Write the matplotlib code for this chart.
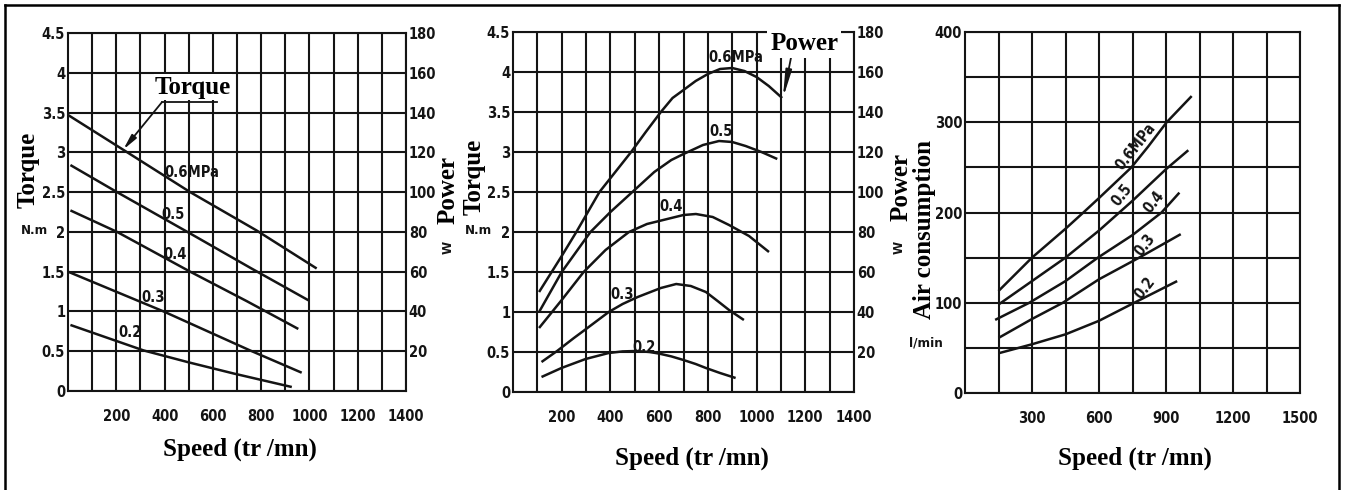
import matplotlib
matplotlib.use('Agg')
import matplotlib.pyplot as plt
from matplotlib import font_manager as fm
from matplotlib.lines import Line2D

# ---------------- data ----------------
pressures = ['0.6MPa', '0.5', '0.4', '0.3', '0.2']

# Panel 1: torque (N.m) vs speed (tr/mn)
torque_speed = {
    '0.6MPa': [0, 230, 506, 780, 1030],
    '0.5': [10, 203, 506, 760, 996],
    '0.4': [10, 203, 506, 740, 954],
    '0.3': [0, 396, 754, 968],
    '0.2': [10, 313, 500, 686, 927],
}
torque_vals = {
    '0.6MPa': [3.47, 3.03, 2.50, 2.02, 1.54],
    '0.5': [2.84, 2.50, 1.98, 1.54, 1.14],
    '0.4': [2.27, 2.00, 1.50, 1.13, 0.78],
    '0.3': [1.50, 1.00, 0.51, 0.23],
    '0.2': [0.83, 0.51, 0.36, 0.22, 0.05],
}

# Panel 2: power (W) vs speed
power_speed = {
    '0.6MPa': [107, 200, 260, 355, 420, 485, 545, 607, 655, 700, 750, 800, 850, 900, 950, 1000, 1050, 1105],
    '0.5': [107, 200, 318, 400, 490, 580, 650, 700, 780, 846, 900, 955, 1020, 1085],
    '0.4': [107, 200, 290, 380, 476, 550, 600, 700, 751, 820, 887, 969, 1051],
    '0.3': [117, 181, 250, 300, 393, 450, 512, 607, 670, 730, 792, 840, 887, 948],
    '0.2': [117, 199, 298, 393, 450, 505, 560, 600, 650, 700, 750, 792, 850, 914],
}
power_vals = {
    '0.6MPa': [50, 68, 80, 100, 110, 120, 130, 140, 147, 151, 155.5, 159, 161.5, 162, 160.5, 157.5, 153, 147],
    '0.5': [40, 60, 80, 90, 100, 110, 116, 119, 123.5, 125.5, 125, 123, 120, 116.5],
    '0.4': [32, 46, 60, 71, 80, 84, 85.5, 88.5, 89, 87.5, 83.5, 78, 70],
    '0.3': [15, 20.5, 27, 31.5, 40, 44, 47.5, 52, 54, 53, 50, 45.5, 41, 36],
    '0.2': [7.5, 12, 16.5, 19.5, 20.3, 20.5, 20, 19.2, 17.8, 16, 14, 12, 9.5, 7],
}

# Panel 3: air consumption (l/min) vs speed
air_speed = {
    '0.6MPa': [150, 300, 450, 530, 600, 745, 820, 903, 1015],
    '0.5': [150, 300, 450, 600, 750, 900, 1000],
    '0.4': [135, 288, 450, 595, 750, 880, 960],
    '0.3': [150, 300, 438, 600, 780, 966],
    '0.2': [150, 300, 450, 600, 750, 950],
}
air_vals = {
    '0.6MPa': [113, 150, 182, 200, 216, 250, 273, 300, 329],
    '0.5': [98, 124, 150, 180, 213, 248, 269],
    '0.4': [81, 100, 124, 150, 175, 200, 222],
    '0.3': [61, 82, 100, 126, 150, 176],
    '0.2': [44, 54, 65, 80, 99, 124],
}

# curve label anchor positions (speed, value)
torque_lbl = {'0.6MPa': (513, 2.75), '0.5': (435, 2.22), '0.4': (443, 1.71),
              '0.3': (352, 1.18), '0.2': (257, 0.73)}
power_lbl = {'0.6MPa': (914, 167), '0.5': (853, 130), '0.4': (648, 93),
             '0.3': (450, 49), '0.2': (539, 22.5)}
air_lbl = {'0.6MPa': (763, 273), '0.5': (703, 219), '0.4': (846, 212),
           '0.3': (808, 164), '0.2': (808, 116)}

torque_ticks = [0, 0.5, 1, 1.5, 2, 2.5, 3, 3.5, 4, 4.5]
torque_ticklabels = ['0', '0.5', '1', '1.5', '2', '2.5', '3', '3.5', '4', '4.5']
power_ticks = [20, 40, 60, 80, 100, 120, 140, 160, 180]
speed_ticks_12 = [200, 400, 600, 800, 1000, 1200, 1400]
speed_ticks_3 = [300, 600, 900, 1200, 1500]
air_ticks = [0, 100, 200, 300, 400]

# ---------------- fonts ----------------
def find_narrow_bold():
    prefs = ['LiberationSansNarrow-Bold', 'DejaVuSansCondensed-Bold', 'RobotoCondensed-Bold',
             'OpenSansCondensed-Bold', 'OpenSans_Condensed-Bold', 'NotoSans-CondensedBold',
             'Roboto_Condensed-Bold', 'OpenSans-CondensedBold', 'Inter-Bold']
    files = [f.fname for f in fm.fontManager.ttflist]
    for p in prefs:
        for fn in files:
            if p.lower() in fn.lower().replace(' ', ''):
                return fn
    return None


NARROW = find_narrow_bold()


def tick_fp(size):
    if NARROW:
        return fm.FontProperties(fname=NARROW, size=size)
    return fm.FontProperties(family='DejaVu Sans', weight='bold', size=size)


SERIF = 'Liberation Serif'
INK = '#141414'
GRID_LW = 1.5
CURVE_LW = 1.8
TICK_FS = 10.5 if NARROW else 9.5

W, H = 1346, 490
fig = plt.figure(figsize=(W / 100, H / 100), dpi=100)


def px_axes(x0, y0, x1, y1):
    return fig.add_axes([x0 / W, 1 - y1 / H, (x1 - x0) / W, (y1 - y0) / H])


def fig_text(x, y, s, **kw):
    return fig.text(x / W, 1 - y / H, s, **kw)


def style_labels(labels):
    for lab in labels:
        lab.set_fontproperties(tick_fp(TICK_FS))
        lab.set_color(INK)


def style_axes(ax, xmax, xmajor, xminor, ymax, ymajor, yminor, ylabels=None):
    ax.set_xlim(0, xmax)
    ax.set_ylim(0, ymax)
    ax.set_xticks(xmajor)
    ax.set_xticks(xminor, minor=True)
    ax.set_yticks(ymajor)
    ax.set_yticks(yminor, minor=True)
    if ylabels is not None:
        ax.set_yticklabels(ylabels)
    ax.grid(True, which='both', color=INK, linewidth=GRID_LW)
    ax.set_axisbelow(True)
    for sp in ax.spines.values():
        sp.set_color(INK)
        sp.set_linewidth(GRID_LW)
    ax.tick_params(which='both', length=0)
    ax.tick_params(axis='x', pad=13)
    ax.tick_params(axis='y', pad=2)
    style_labels(ax.get_xticklabels() + ax.get_yticklabels())


def power_twin(ax):
    ax2 = ax.twinx()
    ax2.set_ylim(0, 180)
    ax2.set_yticks(power_ticks)
    ax2.tick_params(which='both', length=0, pad=2)
    for sp in ax2.spines.values():
        sp.set_visible(False)
    style_labels(ax2.get_yticklabels())
    return ax2


def curve_label(ax, pos, s, rot=0):
    ax.text(pos[0], pos[1], s, fontproperties=tick_fp(TICK_FS),
            color=INK, ha='center', va='center', rotation=rot)


SERIF_KW = dict(fontfamily=SERIF, fontweight='bold', fontsize=18, color='black')
WHITE_BOX = dict(boxstyle='square,pad=0.05', facecolor='white', edgecolor='none')

# ---------------- panel 1: torque ----------------
ax1 = px_axes(68, 33, 406, 391)
style_axes(ax1, 1400, speed_ticks_12, list(range(100, 1400, 200)),
           4.5, torque_ticks, [], torque_ticklabels)
ax1r = power_twin(ax1)
for p in pressures:
    ax1.plot(torque_speed[p], torque_vals[p], color=INK, lw=CURVE_LW, solid_capstyle='butt')
    curve_label(ax1, torque_lbl[p], p)
# "Torque" pointer
ax1.plot([389, 617], [3.63, 3.63], color=INK, lw=1.3)
ax1.annotate('', xy=(229, 3.035), xytext=(389, 3.63),
             arrowprops=dict(arrowstyle='-|>,head_length=0.9,head_width=0.18',
                             color=INK, lw=1.3, shrinkA=0, shrinkB=0))
ax1.text(518, 3.82, 'Torque', ha='center', va='center', bbox=WHITE_BOX, zorder=6, **SERIF_KW)

# ---------------- panel 2: power ----------------
ax2 = px_axes(513, 32, 854, 392)
style_axes(ax2, 1400, speed_ticks_12, list(range(100, 1400, 200)),
           4.5, torque_ticks, [], torque_ticklabels)
ax2r = power_twin(ax2)
for p in pressures:
    ax2r.plot(power_speed[p], power_vals[p], color=INK, lw=CURVE_LW, solid_capstyle='butt')
    curve_label(ax2r, power_lbl[p], p)
ax2r.annotate('', xy=(1108, 146.7), xytext=(1146, 170),
              arrowprops=dict(arrowstyle='-|>,head_length=1.6,head_width=0.18',
                              color=INK, lw=1.3, shrinkA=0, shrinkB=0))
ax2r.text(1195, 174, 'Power', ha='center', va='center', zorder=6, clip_on=False,
          bbox=dict(boxstyle='square,pad=0.12', facecolor='white', edgecolor='none'),
          **SERIF_KW)

# ---------------- panel 3: air consumption ----------------
ax3 = px_axes(965, 32, 1300, 393)
style_axes(ax3, 1500, speed_ticks_3, list(range(150, 1500, 300)),
           400, air_ticks, list(range(50, 400, 100)))
for p in pressures:
    ax3.plot(air_speed[p], air_vals[p], color=INK, lw=CURVE_LW, solid_capstyle='butt')
    curve_label(ax3, air_lbl[p], p, rot=52)

# ---------------- axis titles / units ----------------
for cx, cy in [(240, 449), (692, 458), (1135, 458)]:
    fig_text(cx, cy, 'Speed (tr /mn)', ha='center', va='center', **SERIF_KW)

fig_text(28, 170, 'Torque', rotation=90, ha='center', va='center', bbox=WHITE_BOX, **SERIF_KW)
fig_text(474, 177, 'Torque', rotation=90, ha='center', va='center', bbox=WHITE_BOX, **SERIF_KW)
fig_text(448, 190, 'Power', rotation=90, ha='center', va='center', **SERIF_KW)
fig_text(901, 187, 'Power', rotation=90, ha='center', va='center', **SERIF_KW)
fig_text(925, 229, 'Air consumption', rotation=90, ha='center', va='center', **SERIF_KW)

UNIT_FS = TICK_FS - 1
fig_text(34, 230, 'N.m', fontproperties=tick_fp(UNIT_FS), color=INK, ha='center', va='center')
fig_text(479, 230, 'N.m', fontproperties=tick_fp(UNIT_FS), color=INK, ha='center', va='center')
fig_text(448, 247, 'W', rotation=90, fontproperties=tick_fp(UNIT_FS), color=INK, ha='center', va='center')
fig_text(899, 247, 'W', rotation=90, fontproperties=tick_fp(UNIT_FS), color=INK, ha='center', va='center')
fig_text(926, 343, 'l/min', fontproperties=tick_fp(UNIT_FS), color=INK, ha='center', va='center')

# ---------------- outer frame ----------------
frame_kw = dict(color='black', lw=1.8, transform=fig.transFigure)
fig.add_artist(Line2D([5 / W, 5 / W], [0, 1 - 5 / H], **frame_kw))
fig.add_artist(Line2D([5 / W, 1339 / W], [1 - 5 / H, 1 - 5 / H], **frame_kw))
fig.add_artist(Line2D([1339 / W, 1339 / W], [0, 1 - 5 / H], **frame_kw))

fig.savefig('out.png', dpi=100, facecolor='white')
